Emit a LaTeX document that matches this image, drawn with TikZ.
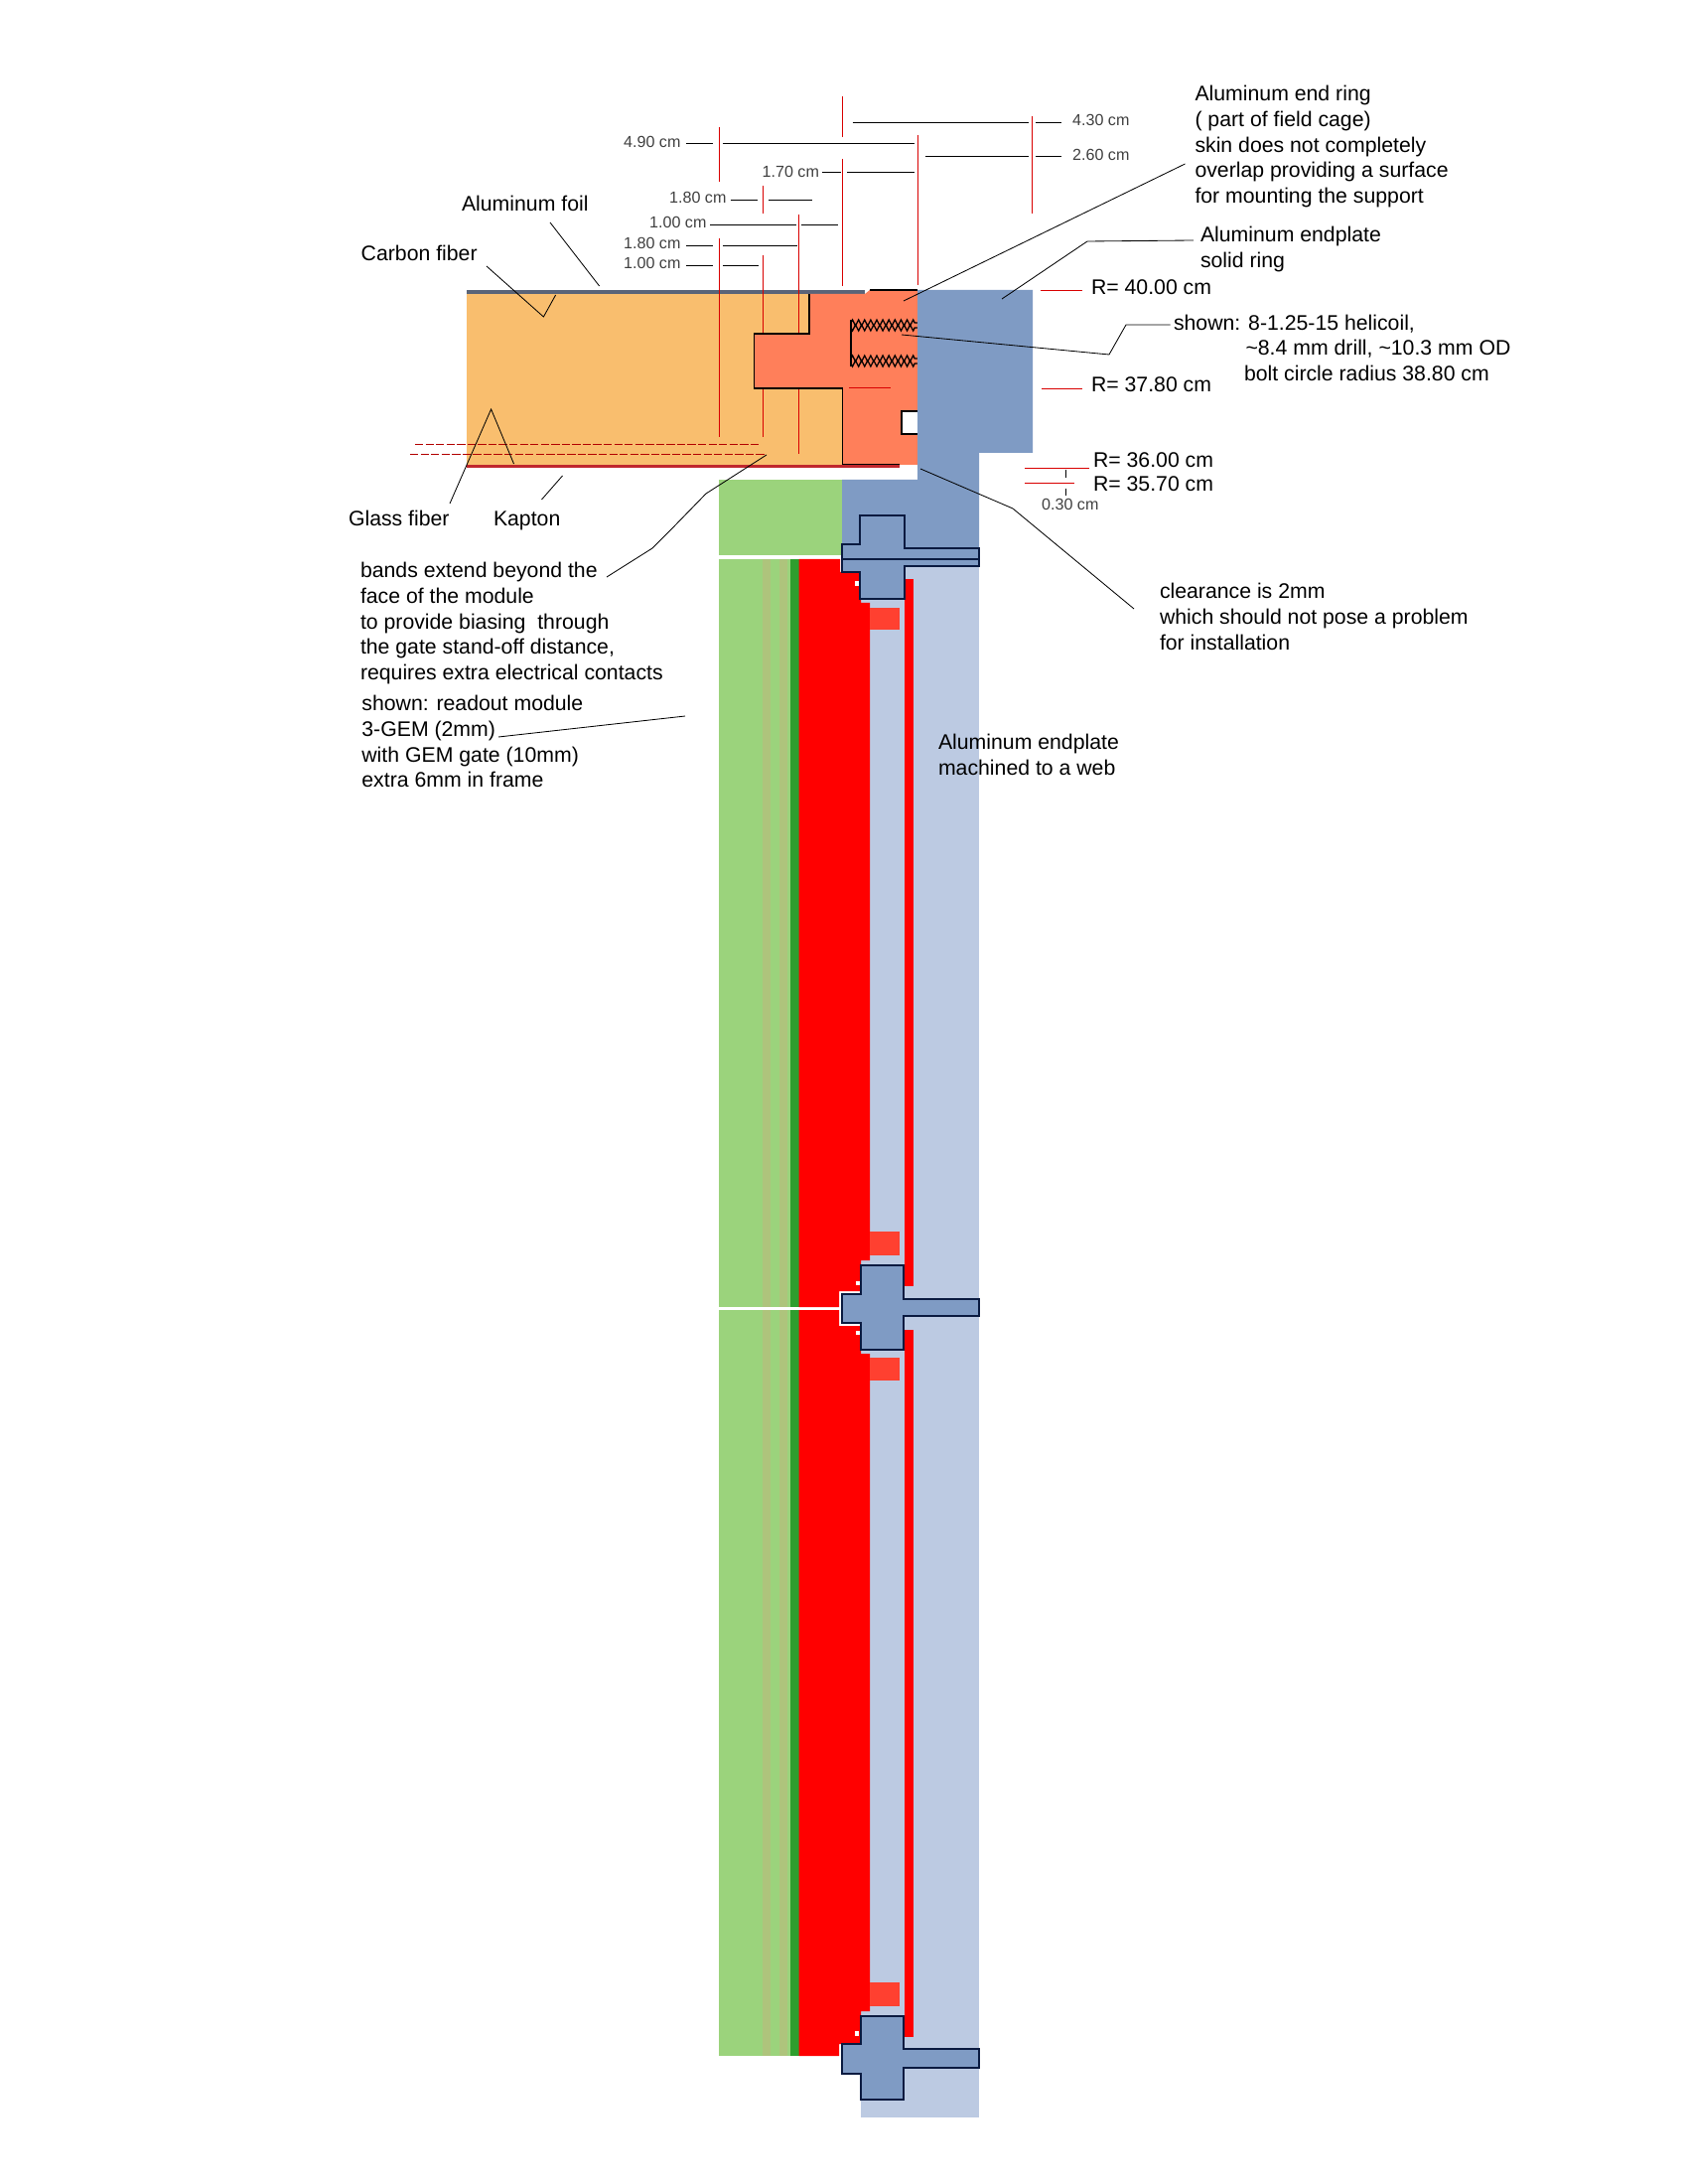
\documentclass[tikz,border=0pt]{standalone}
\usepackage{fontspec}
\setmainfont{Liberation Sans}
\usetikzlibrary{decorations.pathmorphing}
\definecolor{cagecol}{HTML}{F9BE6E}
\definecolor{ringcol}{HTML}{FF7F5A}
\definecolor{platecol}{HTML}{7F9BC4}
\definecolor{webcol}{HTML}{BCCAE2}
\definecolor{padcol}{HTML}{9BD37C}
\definecolor{pcbcol}{HTML}{2E9E2E}
\definecolor{stripecol}{HTML}{AEC47C}
\definecolor{blockcol}{HTML}{FF4030}
\definecolor{skincol}{HTML}{5A6478}
\definecolor{kaptoncol}{HTML}{C0272D}
\definecolor{navycol}{HTML}{0A1A40}
\tikzset{
  lbl/.style={inner sep=0pt, anchor=north west, align=left, xshift=-0.2pt, yshift=0.35pt, font=\fontsize{7.65}{9.2}\selectfont},
  dimlbl/.style={inner sep=0pt, anchor=east, text=black!75, font=\fontsize{5.8}{7}\selectfont},
  leader/.style={draw=black, line width=0.3pt},
  dimline/.style={draw=black, line width=0.33pt},
  redline/.style={draw=red!85!black, line width=0.33pt},
  bandline/.style={draw=red!70!black, line width=0.33pt, dash pattern=on 3pt off 0.8pt},
  tbeam/.style={fill=platecol, draw=navycol, line width=0.4pt},
  coil/.style={draw=black, line width=0.45pt, decorate, decoration={zigzag, amplitude=1.1pt, segment length=2.2pt}},
  coilm/.style={draw=black, line width=0.45pt, decorate, decoration={zigzag, amplitude=1.1pt, segment length=2.2pt, mirror}}
}
\begin{document}
\begin{tikzpicture}[x=0.36pt, y=-0.36pt]
\useasboundingbox (0,0) rectangle (1700,2199);
% Field cage wall
\fill[cagecol] (470,292) rectangle (848,471);
\fill[skincol] (470,292) rectangle (871,296); % Aluminum foil
\fill[kaptoncol] (470,468) rectangle (906,471); % Kapton
% Red dimension lines, upper row
\draw[redline] (724,128) -- (724,183);
\draw[redline] (724,240) -- (724,440);
\draw[redline] (768.6,187) -- (768.6,215);
\draw[redline] (768.6,257) -- (768.6,440);
\draw[redline] (804.5,216) -- (804.5,336);
\draw[redline] (804.5,392) -- (804.5,457);
\draw[redline] (848.6,97) -- (848.6,138);
\draw[redline] (848.6,160) -- (848.6,288);
\draw[redline] (924.3,136) -- (924.3,287);
\draw[redline] (1039,117) -- (1039,215);
% Bands
\draw[bandline] (418,447) -- (766,447);
\draw[bandline] (413,457) -- (770,457);
% End ring
\fill[ringcol] (815,296) -- (871,296) -- (876,292) -- (924,292) -- (924,468) -- (848.5,468) -- (848.5,391) -- (759.4,391) -- (759.4,336) -- (815,336) -- cycle;
\draw[line width=0.4pt] (815,296) -- (815,336) -- (759.4,336) -- (759.4,391) -- (848.5,391) -- (848.5,467.5) -- (906,467.5);
\draw[line width=0.4pt] (876,292) -- (924,292);
\draw[redline] (855,390) -- (897,390);
% Helicoil
\draw[line width=0.4pt] (857,322) -- (857,369);
\draw[coil] (857,325) -- (924,325);
\draw[coilm] (857,330) -- (924,330);
\draw[coil] (857,361) -- (924,361);
\draw[coilm] (857,366) -- (924,366);
% Hole in the ring
\fill[white] (908,414) rectangle (924,437);
\draw[line width=0.4pt] (924,414) -- (908,414) -- (908,437) -- (924,437);
% Endplate
\fill[webcol] (867,570) rectangle (986,2132);
\fill[platecol] (924,292) -- (1040,292) -- (1040,456) -- (986,456) -- (986,570) -- (848,570) -- (848,483) -- (924,483) -- cycle;
% Readout module
\fill[padcol] (724,483) rectangle (848,559);
\fill[padcol] (724,563) rectangle (796,1316);
\fill[padcol] (724,1319) rectangle (796,2070);
\fill[pcbcol] (796,563) rectangle (804.5,1316);
\fill[pcbcol] (796,1319) rectangle (804.5,2070);
\fill[stripecol] (768,563) rectangle (776,1316);
\fill[stripecol] (785,563) rectangle (793,1316);
\fill[stripecol] (768,1319) rectangle (776,2070);
\fill[stripecol] (785,1319) rectangle (793,2070);
\fill[red] (804.5,563) -- (846,563) -- (846,576) -- (867,576) -- (867,607) -- (876,607) -- (876,1269) -- (867,1269) -- (867,1300) -- (845,1300) -- (845,1316) -- (804.5,1316) -- cycle;
\fill[red] (804.5,1319) -- (845,1319) -- (845,1335) -- (867,1335) -- (867,1363) -- (876,1363) -- (876,2025) -- (867,2025) -- (867,2058) -- (845,2058) -- (845,2070) -- (804.5,2070) -- cycle;
% Red strips on the web
\fill[red] (911,583) rectangle (920,1295);
\fill[red] (911,1339) rectangle (920,2051);
% Small blocks
\fill[blockcol] (876,612) rectangle (906,634);
\fill[blockcol] (876,1240) rectangle (906,1264);
\fill[blockcol] (876,1367) rectangle (906,1390);
\fill[blockcol] (876,1996) rectangle (906,2020);
% Holes beside the T pieces
\fill[white] (861,585) rectangle (865,590);
\fill[white] (862,1290) rectangle (866,1294);
\fill[white] (862,1340) rectangle (866,1344);
\fill[white] (861,2045) rectangle (865,2050);
% T pieces of the endplate web
\draw[tbeam] (848,548) -- (866,548) -- (866,519) -- (911,519) -- (911,552) -- (986,552) -- (986,570) -- (911,570) -- (911,603) -- (866,603) -- (866,576) -- (848,576) -- cycle;
\draw[draw=navycol, line width=0.4pt] (848,563) -- (986,563);
\draw[tbeam] (848,1303) -- (867,1303) -- (867,1274) -- (910,1274) -- (910,1308) -- (986,1308) -- (986,1325) -- (910,1325) -- (910,1359) -- (867,1359) -- (867,1332) -- (848,1332) -- cycle;
\draw[tbeam] (848,2058) -- (867,2058) -- (867,2030) -- (910,2030) -- (910,2063) -- (986,2063) -- (986,2082) -- (910,2082) -- (910,2114) -- (867,2114) -- (867,2088) -- (848,2088) -- cycle;
% Dimension lines and values
\node[dimlbl] (d490) at (686,143) {4.90 cm};
\draw[dimline] (690.5,144.3) -- (717.7,144.3);
\draw[dimline] (728,144.3) -- (920.5,144.3);
\node[dimlbl] (d170) at (825.5,173) {1.70 cm};
\draw[dimline] (827.5,173) -- (846.7,173);
\draw[dimline] (853,173) -- (920.5,173);
\node[dimlbl] (d180a) at (732,199) {1.80 cm};
\draw[dimline] (735.7,201) -- (762.5,201);
\draw[dimline] (774,201) -- (818,201);
\node[dimlbl] (d100a) at (712,224) {1.00 cm};
\draw[dimline] (715.4,226) -- (802,226);
\draw[dimline] (807,226) -- (843.6,226);
\node[dimlbl] (d180b) at (686,245) {1.80 cm};
\draw[dimline] (690.5,247) -- (717.7,247);
\draw[dimline] (728,247) -- (802.6,247);
\node[dimlbl] (d100b) at (686,265) {1.00 cm};
\draw[dimline] (690.5,267) -- (717.7,267);
\draw[dimline] (728,267) -- (764.4,267);
\node[dimlbl] (d430) at (1138,121) {4.30 cm};
\draw[dimline] (858.5,123) -- (1036,123);
\draw[dimline] (1043,123) -- (1069,123);
\node[dimlbl] (d260) at (1138,156) {2.60 cm};
\draw[dimline] (932,157) -- (1036,157);
\draw[dimline] (1043,157) -- (1069,157);
\node[dimlbl] (d030) at (1107,508) {0.30 cm};
\draw[dimline] (1073,473) -- (1073,481);
\draw[dimline] (1073,492) -- (1073,499);
% Radii
\draw[redline] (1048.4,292) -- (1089.5,292);
\node[lbl] (r400) at (1099,282) {R= 40.00 cm};
\draw[redline] (1049,391) -- (1090,391);
\node[lbl] (r378) at (1099,380) {R= 37.80 cm};
\draw[redline] (1032,471) -- (1097,471);
\node[lbl] (r360) at (1101,456) {R= 36.00 cm};
\draw[redline] (1032,486) -- (1082,486);
\node[lbl] (r357) at (1101,480) {R= 35.70 cm};
% Labels and their leaders
\node[lbl] (foil) at (465,198) {Aluminum foil};
\draw[leader] (554,224) -- (603.6,288);
\node[lbl] (carbon) at (363.7,248) {Carbon fiber};
\draw[leader] (490,268) -- (547.4,319) -- (559.6,297);
\node[lbl] (glass) at (351,515) {Glass fiber};
\draw[leader] (453,507) -- (494.6,412) -- (517.5,467);
\node[lbl] (kapton) at (497,515) {Kapton};
\draw[leader] (545.5,503) -- (566.5,479);
\node[lbl] (bands) at (363,567) {bands extend beyond the\\face of the module\\to provide biasing~ through\\the gate stand-off distance,\\requires extra electrical contacts};
\draw[leader] (611,581) -- (657,552) -- (676,533) -- (711,497) -- (772,458);
\node[lbl] (module) at (364.4,701) {shown: readout module\\3-GEM (2mm)\\with GEM gate (10mm)\\extra 6mm in frame};
\draw[leader] (502,742) -- (690,721);
\node[lbl] (endring) at (1203.5,87) {Aluminum end ring\\( part of field cage)\\skin does not completely\\overlap providing a surface\\for mounting the support};
\draw[leader] (1193.5,165) -- (910,303);
\node[lbl] (solid) at (1209,229) {Aluminum endplate\\solid ring};
\draw[leader] (1202,242) -- (1095,243) -- (1009,301);
\node[lbl] (shown) at (1182,318) {shown: 8-1.25-15 helicoil,};
\node[lbl] (drill) at (1254.5,343) {\textasciitilde 8.4 mm drill, \textasciitilde 10.3 mm OD};
\node[lbl] (bolt) at (1253,369) {bolt circle radius 38.80 cm};
\draw[leader] (1178.6,327) -- (1134,327) -- (1117,357) -- (908,337);
\node[lbl] (clear) at (1168,588) {clearance is 2mm\\which should not pose a problem\\for installation};
\draw[leader] (927,472) -- (1020,512) -- (1142,613);
\node[lbl] (web) at (945,740) {Aluminum endplate\\machined to a web};
\end{tikzpicture}
\end{document}
